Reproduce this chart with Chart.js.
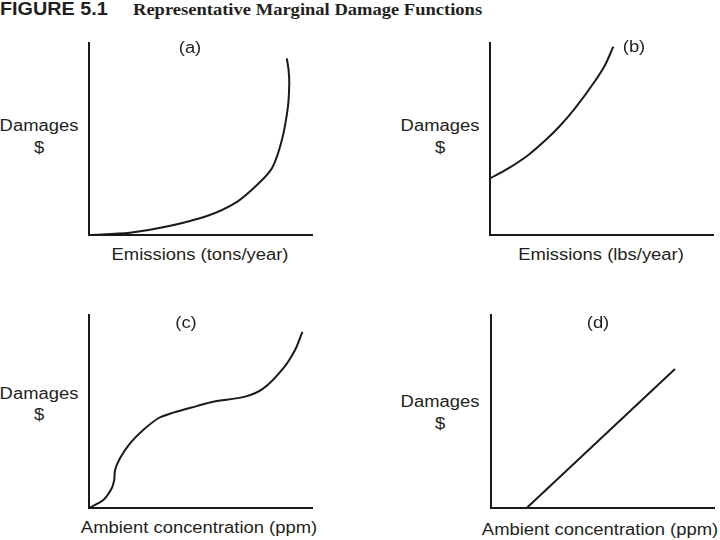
<!DOCTYPE html>
<html>
<head>
<meta charset="utf-8">
<title>Representative Marginal Damage Functions</title>
<script src="https://cdn.jsdelivr.net/npm/chart.js@4.4.0/dist/chart.umd.min.js"></script>
<style>
  body { margin: 0; background: #fff; }
  #fig {
    position: relative; width: 720px; height: 540px; overflow: hidden;
    font-family: "Liberation Sans", Arial, sans-serif; color: #231f20;
  }
  .panel { position: absolute; }
  .lbl {
    position: absolute; font-size: 16px; line-height: 16px; white-space: nowrap;
    transform: translate(-50%, -50%) scaleX(1.15);
  }
  #figNo {
    position: absolute; left: 0; top: 0; font-weight: bold; font-size: 18px; line-height: 18px;
    transform: scaleX(1.1); transform-origin: left top; white-space: nowrap;
  }
  #figTitle {
    position: absolute; left: 133px; top: 1px; font-family: "Liberation Serif", "DejaVu Serif", serif;
    font-weight: bold; font-size: 17px; line-height: 17px; white-space: nowrap;
    transform: scaleX(1.09); transform-origin: left top;
  }
</style>
</head>
<body>
<div id="fig">
  <div id="figNo">FIGURE 5.1</div>
  <div id="figTitle">Representative Marginal Damage Functions</div>
</div>
<script>
// Marginal damage curves (axis units 0-100, no ticks)
const curveAX = [0, 18.4, 33.2, 52.9, 66.4, 75.3, 82.1, 86.5, 89.2, 89.8, 89.5, 88.7];
const curveAY = [0, 1.2, 4.0, 9.9, 17.3, 26.0, 34.9, 49.5, 66.7, 79.2, 85.9, 92.0];

const curveBX = [0, 8.2, 17.2, 24.7, 31.0, 38.1, 47.1, 51.6, 55.3];
const curveBY = [29.5, 34.7, 41.7, 49.2, 56.4, 66.0, 80.2, 88.5, 98.1];

const curveCX = [0, 6.4, 10.2, 11.3, 11.7, 13.9, 18.4, 24.3, 31.1, 37.8, 48.3, 55.7, 70.0, 78.2, 87.1, 92.4, 95.7];
const curveCY = [0, 4.1, 10.2, 14.5, 19.7, 25.8, 33.5, 40.4, 46.5, 49.4, 52.8, 55.1, 57.7, 62.0, 72.4, 81.9, 91.3];

const curveDX = [16.0, 82.5];
const curveDY = [0, 72.0];

const panelTags = ['(a)', '(b)', '(c)', '(d)'];
const xTitles = ['Emissions (tons/year)', 'Emissions (lbs/year)', 'Ambient concentration (ppm)', 'Ambient concentration (ppm)'];
const yTitle = ['Damages', '$'];

// Layout of each panel: plot box (left, top, width, height) and label centres
const panels = [
  { xs: curveAX, ys: curveAY, box: [89, 43, 223, 192], mode: 'default',
    tag: [190, 47.5], dmg: [39, 126], usd: [38.5, 148], xt: [200, 255] },
  { xs: curveBX, ys: curveBY, box: [490, 43, 223, 192], mode: 'monotone',
    tag: [634, 47], dmg: [440, 126], usd: [440, 147.5], xt: [601, 255] },
  { xs: curveCX, ys: curveCY, box: [89, 315, 223, 193], mode: 'default',
    tag: [186, 323], dmg: [39, 394], usd: [38.5, 415], xt: [199, 528] },
  { xs: curveDX, ys: curveDY, box: [491, 315, 223, 193], mode: 'default',
    tag: [598, 323], dmg: [440, 401.7], usd: [440, 423.5], xt: [600, 529.5] }
];

const PAD = 6;
const ink = '#1a1a1a';
const fig = document.getElementById('fig');

function addLabel(text, pos) {
  const d = document.createElement('div');
  d.className = 'lbl';
  d.textContent = text;
  d.style.left = pos[0] + 'px';
  d.style.top = pos[1] + 'px';
  fig.appendChild(d);
}

panels.forEach((p, i) => {
  const [left, top, w, h] = p.box;
  const canvas = document.createElement('canvas');
  canvas.className = 'panel';
  canvas.width = w + 2 * PAD;
  canvas.height = h + 2 * PAD;
  canvas.style.left = (left - PAD) + 'px';
  canvas.style.top = (top - PAD) + 'px';
  fig.appendChild(canvas);

  const points = p.xs.map((x, k) => ({ x: x, y: p.ys[k] }));

  new Chart(canvas, {
    type: 'scatter',
    data: {
      datasets: [{
        data: points,
        showLine: true,
        borderColor: ink,
        borderWidth: 2,
        pointRadius: 0,
        tension: 0.3,
        cubicInterpolationMode: p.mode,
        clip: false
      }]
    },
    options: {
      responsive: false,
      animation: false,
      layout: { padding: PAD },
      plugins: { legend: { display: false }, tooltip: { enabled: false } },
      scales: {
        x: {
          type: 'linear', min: 0, max: 100,
          ticks: { display: false },
          grid: { display: false },
          border: { display: true, color: ink, width: 2 },
          afterFit: (s) => { s.height = 0; }
        },
        y: {
          type: 'linear', min: 0, max: 100,
          ticks: { display: false },
          grid: { display: false },
          border: { display: true, color: ink, width: 2 },
          afterFit: (s) => { s.width = 0; }
        }
      }
    }
  });

  addLabel(panelTags[i], p.tag);
  addLabel(yTitle[0], p.dmg);
  addLabel(yTitle[1], p.usd);
  addLabel(xTitles[i], p.xt);
});
</script>
</body>
</html>
